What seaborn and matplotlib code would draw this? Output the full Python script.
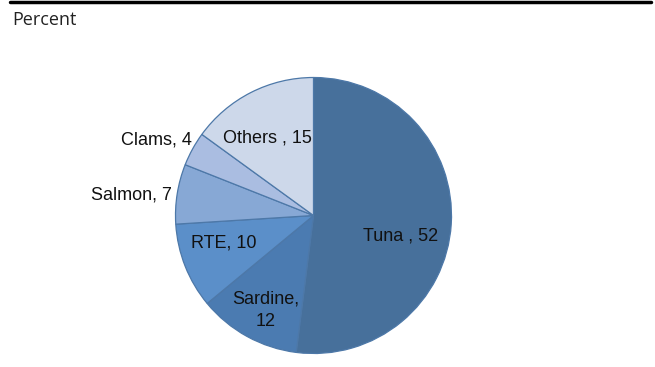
import matplotlib
matplotlib.use("Agg")
import matplotlib.pyplot as plt
import seaborn as sns
import numpy as np

# ---- data ----
categories = ["Tuna", "Sardine", "RTE", "Salmon", "Clams", "Others"]
values = [52, 12, 10, 7, 4, 15]
label_texts = ["Tuna , 52", "Sardine,\n12", "RTE, 10", "Salmon, 7", "Clams, 4", "Others , 15"]
axis_title = "Percent"

# ---- style / layout ----
colors = ["#47709b", "#4b7bb1", "#5b8fc9", "#87a8d5", "#aabde1", "#cdd8ea"]
edge_color = "#4d78a8"
# label placement (fraction of radius) and alignment
label_pos = [(0.63, -0.15, "center"), (-0.344, -0.685, "center"), (-0.649, -0.20, "center"),
             (-1.025, 0.152, "right"), (-0.88, 0.547, "right"), (-0.337, 0.558, "center")]

sns.set_theme(style="white")
plt.rcParams["font.family"] = ["Liberation Sans", "DejaVu Sans"]

W, H = 655, 367
fig = plt.figure(figsize=(W / 100, H / 100), dpi=100)
cx, cy, r = 313.5, 215.5, 138
ax = fig.add_axes([(cx - r) / W, (H - cy - r) / H, 2 * r / W, 2 * r / H])

wedges, _ = ax.pie(values, colors=colors, startangle=90, counterclock=False,
                   wedgeprops=dict(edgecolor=edge_color, linewidth=0.9))
for w in wedges:
    w.set_clip_on(False)
ax.set_xlim(-1, 1)
ax.set_ylim(-1, 1)
ax.set_aspect("equal")
ax.axis("off")

for txt, (x, y, ha) in zip(label_texts, label_pos):
    ax.text(x, y, txt, ha=ha, va="center", fontsize=13, color="#111111",
            linespacing=1.4, clip_on=False)

fig.text(12 / W, 1 - 20 / H, axis_title, ha="left", va="center", fontsize=13,
         family=["Open Sans", "DejaVu Sans"], color="#222222")
fig.add_artist(plt.Line2D([10 / W, 651 / W], [1 - 1.5 / H, 1 - 1.5 / H],
                          color="black", linewidth=2.5, transform=fig.transFigure))

fig.savefig("out.png", dpi=100)
